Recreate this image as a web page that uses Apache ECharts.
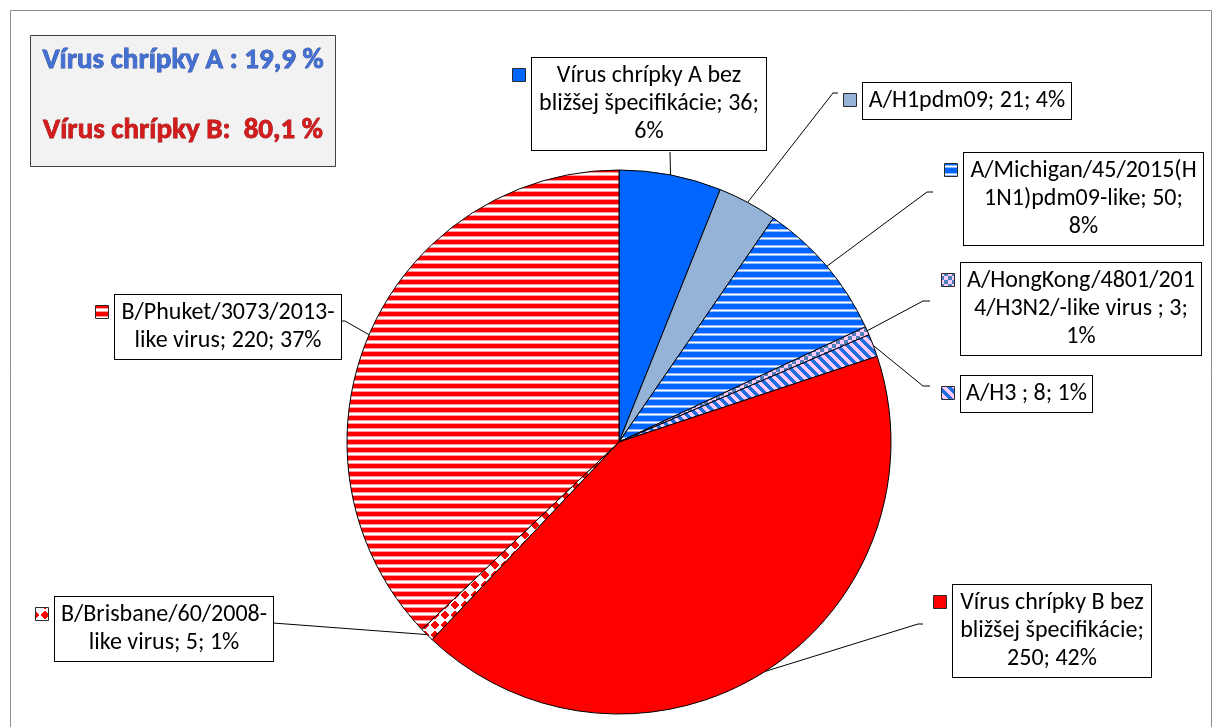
<!DOCTYPE html>
<html>
<head>
<meta charset="utf-8">
<script src="https://cdn.jsdelivr.net/npm/echarts@6/dist/echarts.min.js"></script>
<style>
  html, body { margin: 0; padding: 0; background: #fff; }
  #chart { width: 1212px; height: 727px; }
</style>
</head>
<body>
<div id="chart"></div>
<script>
// dáta z grafu
var names = [
  "Vírus chrípky A bez bližšej špecifikácie",
  "A/H1pdm09",
  "A/Michigan/45/2015(H1N1)pdm09-like",
  "A/HongKong/4801/2014/H3N2/-like virus ",
  "A/H3 ",
  "Vírus chrípky B bez bližšej špecifikácie",
  "B/Brisbane/60/2008-like virus",
  "B/Phuket/3073/2013-like virus"
];
var values = [36, 21, 50, 3, 8, 250, 5, 220];
var groups = ["A", "A", "A", "A", "A", "B", "B", "B"];

// vzorky výplne (ako v Exceli)
function makePattern(w, h, fn) {
  var c = document.createElement("canvas");
  c.width = w; c.height = h;
  var ctx = c.getContext("2d");
  for (var y = 0; y < h; y++) {
    for (var x = 0; x < w; x++) {
      ctx.fillStyle = fn(x, y);
      ctx.fillRect(x, y, 1, 1);
    }
  }
  return { image: c, repeat: "repeat" };
}
var pBlueStripes = makePattern(8, 8, function (x, y) {
  if (y === 6) return "#ffffff";
  if (y === 5 || y === 7) return "#8fbaff";
  return "#0066ff";
});
var pChecker = makePattern(8, 8, function (x, y) {
  return ((x < 4) === (y < 4)) ? "#4f81bd" : "#ffccff";
});
var pDiag = makePattern(10, 10, function (x, y) {
  var d = ((x - y) % 10 + 10) % 10;
  return d < 5 ? "#1f6fe0" : "#ffccff";
});
var pRedDiamond = makePattern(10, 10, function (x, y) {
  return (Math.abs(x - 4.5) + Math.abs(y - 4.5) < 5) ? "#ff0000" : "#ffffff";
});
var pRedStripes = makePattern(8, 8, function (x, y) {
  if (y <= 3) return "#ff0000";
  if (y === 4 || y === 7) return "#ff9a9a";
  return "#ffffff";
});
var fills = ["#0066ff", "#95b3d7", pBlueStripes, pChecker, pDiag, "#ff0000", pRedDiamond, pRedStripes];

// rozmiestnenie popisov (box, zlom riadkov, vodiaca čiara)
var boxes = [
  { left: 532, top: 58, w: 234, brk: ["bez ", "36; "], line: [[670, 152], [670, 152]] },
  { left: 863, top: 83, w: 208, brk: [], line: [[833, 93], [838, 93]] },
  { left: 964, top: 153, w: 239, brk: ["(H", "50; "], line: [[927, 192], [933, 192]] },
  { left: 961, top: 263, w: 240, brk: ["/201", "3; "], line: [[923, 301], [930, 301]] },
  { left: 961, top: 376, w: 131, brk: [], line: [[923, 386], [930, 386]] },
  { left: 953, top: 585, w: 198, brk: ["bez ", "ácie; "], line: [[918, 624], [923, 624]] },
  { left: 55, top: 597, w: 218, brk: ["2008-"], line: [[273, 623], [273, 623]] },
  { left: 115, top: 295, w: 226, brk: ["2013-"], line: [[345, 321], [341, 321]] }
];

function applyBreaks(text, marks) {
  marks.forEach(function (m) {
    var i = text.indexOf(m);
    if (i >= 0) text = text.slice(0, i) + m.replace(/\s+$/, "") + "\n" + text.slice(i + m.length);
  });
  return text;
}

var total = values.reduce(function (a, b) { return a + b; }, 0);
function groupShare(g) {
  var s = 0;
  values.forEach(function (v, i) { if (groups[i] === g) s += v; });
  return (s / total * 100).toFixed(1).replace(".", ",");
}

var FONT = "Carlito, Lato, 'Noto Sans', sans-serif";

var pieData = names.map(function (n, i) {
  return {
    name: n,
    value: values[i],
    itemStyle: { color: fills[i] },
    label: { width: boxes[i].w - 8 }
  };
});

var graphics = [
  {
    type: "rect", silent: true,
    shape: { x: 10.5, y: 10.5, width: 1201, height: 720 },
    style: { fill: null, stroke: "#8c8c8c", lineWidth: 1 }
  },
  {
    type: "rect", silent: true,
    shape: { x: 30.5, y: 35.5, width: 305, height: 131 },
    style: { fill: "#f2f2f2", stroke: "#404040", lineWidth: 1 }
  },
  {
    type: "text", silent: true, x: 183, y: 61,
    style: {
      text: "Vírus chrípky A : " + groupShare("A") + " %",
      font: "bold 29px " + FONT, fill: "#4470d2", stroke: "#2a4c9e", lineWidth: 0.8,
      align: "center", verticalAlign: "middle",
      shadowColor: "rgba(0,0,0,0.4)", shadowBlur: 2, shadowOffsetX: 1, shadowOffsetY: 1
    }
  },
  {
    type: "text", silent: true, x: 183, y: 131,
    style: {
      text: "Vírus chrípky B:  " + groupShare("B") + " %",
      font: "bold 29px " + FONT, fill: "#d41c1c", stroke: "#921010", lineWidth: 0.8,
      align: "center", verticalAlign: "middle",
      shadowColor: "rgba(0,0,0,0.4)", shadowBlur: 2, shadowOffsetX: 1, shadowOffsetY: 1
    }
  }
];
// značky legendy pred popismi
boxes.forEach(function (b, i) {
  graphics.push({
    type: "rect", silent: true,
    shape: { x: b.left - 19.5, y: b.top + 10.5, width: 13, height: 13 },
    style: { fill: fills[i], stroke: "#2b2b2b", lineWidth: 1 }
  });
});

var chart = echarts.init(document.getElementById("chart"));
chart.setOption({
  animation: false,
  backgroundColor: "#fff",
  graphic: graphics,
  series: [
    {
      type: "pie",
      center: [619, 442],
      radius: 272,
      startAngle: 90,
      clockwise: true,
      percentPrecision: 0,
      avoidLabelOverlap: false,
      silent: true,
      itemStyle: { borderColor: "#000", borderWidth: 1 },
      label: {
        show: true,
        position: "outside",
        formatter: function (p) {
          var t = p.name + "; " + p.value + "; " + p.percent + "%";
          return applyBreaks(t, boxes[p.dataIndex].brk);
        },
        overflow: "none",
        fontFamily: FONT,
        fontSize: 24,
        lineHeight: 28,
        color: "#000",
        backgroundColor: "#fff",
        borderColor: "#000",
        borderWidth: 1,
        padding: [4, 4, 4, 4]
      },
      labelLine: { show: true, lineStyle: { color: "#000", width: 1 } },
      labelLayout: function (params) {
        var b = boxes[params.dataIndex];
        var p0 = params.labelLinePoints ? params.labelLinePoints[0] : b.line[0];
        return {
          x: b.left + b.w / 2,
          y: b.top,
          align: "center",
          verticalAlign: "top",
          labelLinePoints: [p0, b.line[0], b.line[1]]
        };
      },
      data: pieData
    }
  ]
});
</script>
</body>
</html>
